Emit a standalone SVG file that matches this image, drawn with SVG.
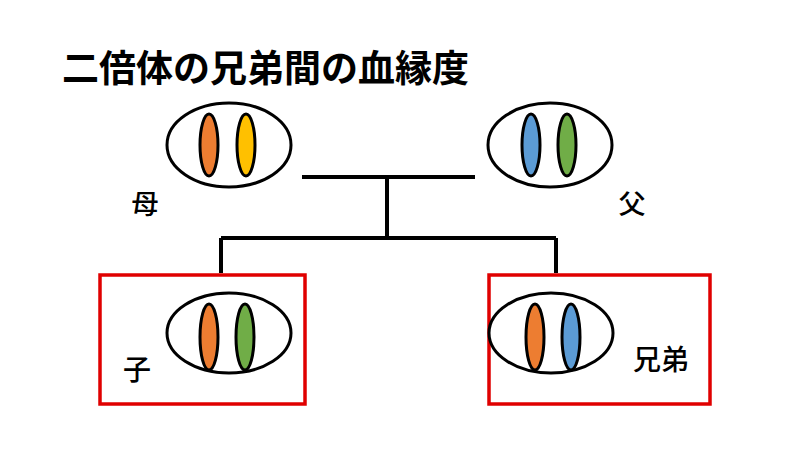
<svg xmlns="http://www.w3.org/2000/svg" width="800" height="450" viewBox="0 0 800 450">
<style>
.cell{fill:#fff;stroke:#000;stroke-width:3}
.chr{stroke:#000;stroke-width:3}
.o{fill:#ed7d31}.y{fill:#ffc000}.b{fill:#5b9bd5}.g{fill:#70ad47}
.t{font-family:"Noto Sans CJK JP","Noto Sans CJK SC",sans-serif;fill:#000}
.l{font-weight:500}
.box{fill:none;stroke:#e00000;stroke-width:3.5}
.ln{stroke:#000;stroke-width:4;fill:none}
</style>
<rect width="800" height="450" fill="#fff"/>
<text class="t" x="62" y="82" font-size="37" font-weight="bold">二倍体の兄弟間の血縁度</text>
<g id="connectors">
<path class="ln" d="M302 177H475M387 177V238M221 238H556M221 238V273M556 238V273"/>
</g>
<g id="mother">
<ellipse class="cell" cx="229" cy="145" rx="62" ry="42"/>
<ellipse class="chr o" cx="209" cy="145" rx="9" ry="31"/>
<ellipse class="chr y" cx="246" cy="145" rx="9" ry="31"/>
<text class="t l" x="145" y="214" font-size="27" text-anchor="middle">母</text>
</g>
<g id="father">
<ellipse class="cell" cx="550" cy="145" rx="62" ry="42"/>
<ellipse class="chr b" cx="531" cy="145" rx="9" ry="31"/>
<ellipse class="chr g" cx="567" cy="145" rx="9" ry="31"/>
<text class="t l" x="632" y="214" font-size="27" text-anchor="middle">父</text>
</g>
<g id="child">
<rect class="box" x="100" y="275" width="205" height="129"/>
<ellipse class="cell" cx="229" cy="333" rx="62" ry="40"/>
<ellipse class="chr o" cx="209" cy="337" rx="9" ry="33"/>
<ellipse class="chr g" cx="245" cy="337" rx="9" ry="33"/>
<text class="t l" x="137" y="380" font-size="28" text-anchor="middle">子</text>
</g>
<g id="sibling">
<rect class="box" x="489" y="275" width="221" height="129"/>
<ellipse class="cell" cx="551" cy="333" rx="62" ry="40"/>
<ellipse class="chr o" cx="535" cy="337" rx="9" ry="33"/>
<ellipse class="chr b" cx="571" cy="337" rx="9" ry="33"/>
<text class="t l" x="661" y="370" font-size="28" text-anchor="middle">兄弟</text>
</g>
</svg>
